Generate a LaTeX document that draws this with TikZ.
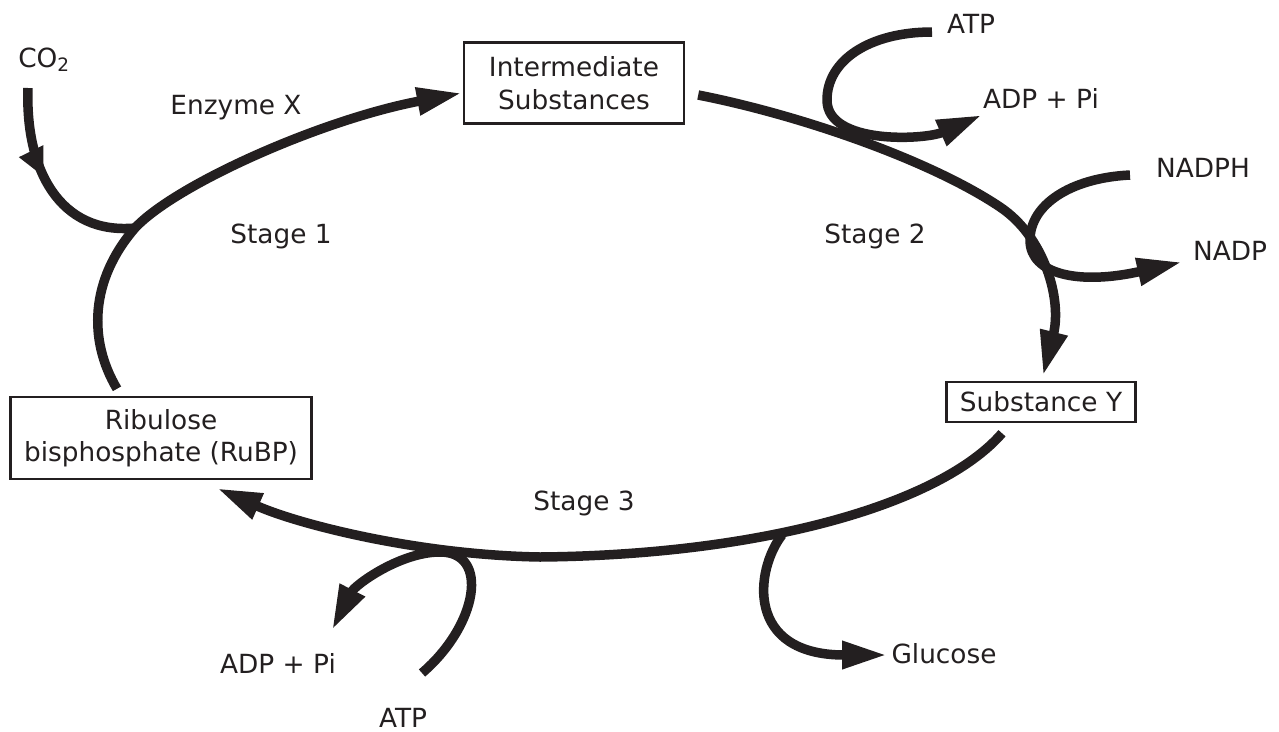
\documentclass[tikz,border=0pt]{standalone}
\usepackage{fontspec}
\setmainfont{DejaVu Sans}
\usetikzlibrary{%
    arrows.meta,
    calc,
    decorations.markings,
    positioning
}
\definecolor{ink}{HTML}{231F20}
\tikzset{headarrow/.style = {-{Triangle[length=0.9cm,width=0.52cm]}}}
\tikzset{flow/.style = {line width=0.19cm,draw=ink}}
\tikzset{box/.style = {draw=ink,line width=1.4pt,align=center,inner sep=0pt}}
\tikzset{label/.style = {inner sep=0pt,anchor=base}}
\tikzset{midarrow/.style = {postaction={decorate},
    decoration={markings,mark=at position #1 with {\arrow{Triangle[length=0.58cm,width=0.5cm]}}}}}

\begin{document}
\begin{tikzpicture}[x=0.02cm,y=-0.02cm,font=\fontsize{15}{18.5}\selectfont,text=ink]
    \useasboundingbox (0,0) rectangle (1279,731);

    \node (inter) [box,minimum width=4.4cm,minimum height=1.62cm] at (574,83) {Intermediate\\Substances};
    \node (suby) [box,minimum width=3.78cm,minimum height=0.8cm] at (1041,402) {Substance Y};
    \node (rubp) [box,minimum width=6.02cm,minimum height=1.64cm] at (161,438) {Ribulose\\bisphosphate (RuBP)};

    \node (co2) [label,anchor=base west] at (18,67) {CO\textsubscript{2}};
    \foreach \Name/\X/\Y/\Text in {enz/236/114/Enzyme X, st1/281/243/Stage 1,
        st2/875/243/Stage 2, st3/584/510/Stage 3, atpa/971/33/ATP,
        adpa/1041/108/ADP + Pi, nadph/1203/177/NADPH, nadp/1230/260/NADP,
        glu/944/663/Glucose, adpb/278/673/ADP + Pi, atpb/403/727/ATP}
        \node (\Name) [label] at (\X,\Y) {\Text};

    % free ends of the side branches
    \coordinate (co2in) at (28,88);
    \coordinate (atpain) at (932,32);
    \coordinate (adpaout) at (982,115);
    \coordinate (nadphin) at (1130,175);
    \coordinate (nadpout) at (1182,262);
    \coordinate (atpbin) at (422,673);
    \coordinate (adpbout) at (332,630);
    \coordinate (glustart) at (782,535);
    \coordinate (gluout) at (887,655);

    % stage 1
    \draw[flow,headarrow] ($(rubp.north)+(-44,-7)$) .. controls (88,340) and (90,280) .. (135,228) coordinate (jco2)
        .. controls (175,185) and (320,120) .. ($(inter.west)+(-1,10)$);
    % stage 2
    \draw[flow,headarrow] ($(inter.east)+(13,12)$) .. controls (800,115) and (930,160) .. (1000,207)
        .. controls (1045,237) and (1062,300) .. ($(suby.north)+(2,-5)$);
    % stage 3
    \draw[flow,headarrow] ($(suby.south)+(-39,10)$) .. controls (940,505) and (760,555) .. (540,557)
        .. controls (420,555) and (300,525) .. ($(rubp.south)+(56,8)$);

    % side branches
    \draw[flow,midarrow=0.45] (co2in) .. controls (25,170) and (60,235) .. (jco2);
    \draw[flow,headarrow] (atpain) .. controls (870,32) and (827,60) .. (827,100)
        .. controls (827,145) and (925,140) .. (adpaout);
    \draw[flow,headarrow] (nadphin) .. controls (1070,178) and (1030,205) .. (1030,240)
        .. controls (1030,275) and (1080,285) .. (nadpout);
    \draw[flow,headarrow] (atpbin) .. controls (478,625) and (490,552) .. (440,552)
        .. controls (400,552) and (355,585) .. (adpbout);
    \draw[flow,headarrow] (glustart) .. controls (755,570) and (745,655) .. (gluout);
\end{tikzpicture}
\end{document}
